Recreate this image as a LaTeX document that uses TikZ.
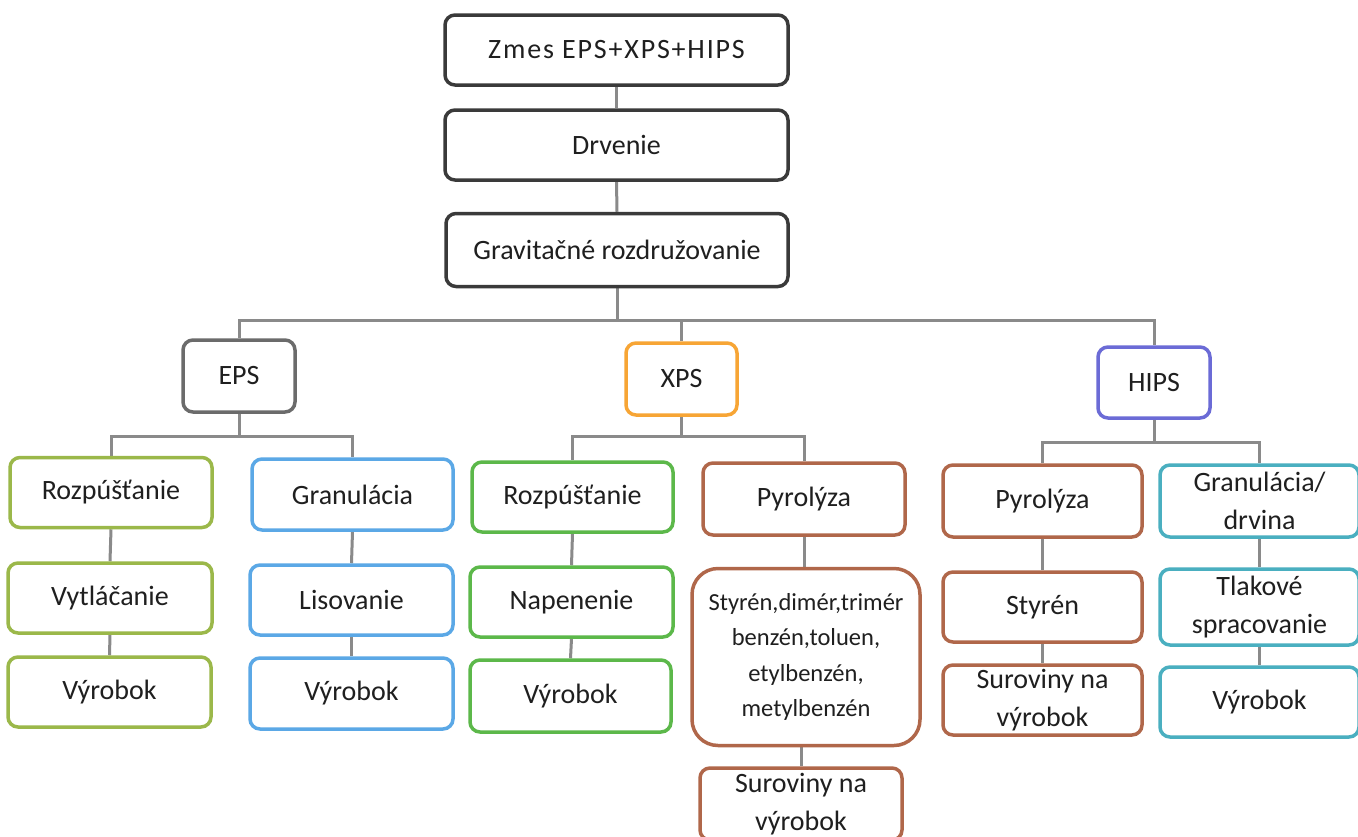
\documentclass[tikz,border=0pt]{standalone}
\usepackage{fontspec}
\setmainfont{Carlito}
\usetikzlibrary{backgrounds}
\definecolor{linegray}{HTML}{8A8A8A}
\definecolor{cdark}{HTML}{3A3A3A}
\definecolor{ceps}{HTML}{6B6B6B}
\definecolor{cxps}{HTML}{F7A535}
\definecolor{chips}{HTML}{6B6BD6}
\definecolor{colive}{HTML}{9BB84A}
\definecolor{cblue}{HTML}{5BA8E6}
\definecolor{cgreen}{HTML}{5CB84A}
\definecolor{cbrown}{HTML}{B0674A}
\definecolor{cteal}{HTML}{4AAFC0}
\begin{document}
\begin{tikzpicture}[x=1pt,y=-1pt,
  box/.style={draw=#1, line width=3.5pt, rounded corners=10pt, fill=white,
    align=center, inner sep=0pt, minimum width=202pt, minimum height=70pt,
    font=\fontsize{28}{38}\selectfont, text=black!88},
  conn/.style={draw=linegray, line width=3pt}]
\useasboundingbox (0,0) rectangle (1358,836);
% top chain
\node[box=cdark, minimum width=343pt, font=\fontsize{28}{38}\selectfont\addfontfeatures{LetterSpace=6.5}] (zmes) at (616.5,50) {Zmes EPS+XPS+HIPS};
\node[box=cdark, minimum width=343pt] (drv) at (616.5,145) {Drvenie};
\node[box=cdark, minimum width=342pt, minimum height=73pt] (grav) at (617,250) {Gravitačné rozdružovanie};
% second level
\node[box=ceps, minimum width=112pt, minimum height=72pt] (eps) at (239,376) {EPS};
\node[box=cxps, minimum width=111pt, minimum height=72pt] (xps) at (681.5,379) {XPS};
\node[box=chips, minimum width=112pt, minimum height=71pt] (hips) at (1154,382.5) {HIPS};
% EPS branch 1
\node[box=colive] (r1) at (111,492.5) {Rozpúšťanie};
\node[box=colive, minimum width=204pt] (vyt) at (110,598) {Vytláčanie};
\node[box=colive, minimum width=203pt] (vy1) at (109.5,692) {Výrobok};
% EPS branch 2
\node[box=cblue, minimum width=201pt, minimum height=71pt] (gr1) at (352.5,494.5) {Granulácia};
\node[box=cblue, minimum width=203pt] (lis) at (351.5,600) {Lisovanie};
\node[box=cblue, minimum width=203pt, minimum height=71pt] (vy2) at (351.5,693.5) {Výrobok};
% XPS branch 1
\node[box=cgreen, minimum width=201pt] (r2) at (572.5,497) {Rozpúšťanie};
\node[box=cgreen, minimum width=203pt] (nap) at (571.5,602) {Napenenie};
\node[box=cgreen, minimum width=201pt, minimum height=72pt] (vy3) at (570.5,696) {Výrobok};
% XPS branch 2
\node[box=cbrown, minimum height=72pt] (py1) at (804,499) {Pyrolýza};
\node[box=cbrown, minimum width=228pt, minimum height=177pt, rounded corners=26pt,
      font=\fontsize{24.5}{35.5}\selectfont] (prod) at (806,657)
      {Styrén,dimér,trimér\\benzén,toluen,\\etylbenzén,\\metylbenzén};
\node[box=cbrown, minimum height=72pt] (sur1) at (801,804) {Suroviny na\\výrobok};
% HIPS branch 1
\node[box=cbrown, minimum width=199pt, minimum height=72pt] (py2) at (1042.5,501) {Pyrolýza};
\node[box=cbrown, minimum width=199pt] (sty) at (1042.5,607) {Styrén};
\node[box=cbrown, minimum width=199pt] (sur2) at (1042.5,700) {Suroviny na\\výrobok};
% HIPS branch 2
\node[box=cteal, minimum width=199pt, minimum height=72pt] (gr2) at (1259.5,501) {Granulácia/\\drvina};
\node[box=cteal, minimum width=199pt] (tlak) at (1259.5,607) {\raisebox{-5pt}{\begin{tabular}{@{}c@{}}Tlakové\\spracovanie\end{tabular}}};
\node[box=cteal, minimum width=199pt] (vy4) at (1259.5,702) {Výrobok};
% connectors
\coordinate (b1) at (0,320);
\coordinate (b2) at (0,436);
\coordinate (b3) at (0,442);
\begin{scope}[on background layer]
\fill[white] (0,0) rectangle (1358,836);
\draw[conn] (zmes.south) -- (drv.north);
\draw[conn] (drv.south) -- (grav.north);
\foreach \c in {eps,xps,hips}
  \draw[conn] (grav.south) -- (grav.south |- b1) -| (\c.north);
\foreach \c in {r1,gr1}
  \draw[conn] (eps.south) -- (eps.south |- b2) -| (\c.north);
\foreach \c in {r2,py1}
  \draw[conn] (xps.south) -- (xps.south |- b2) -| (\c.north);
\foreach \c in {py2,gr2}
  \draw[conn] (hips.south) -- (hips.south |- b3) -| (\c.north);
\draw[conn] (r1.south) -- (vyt.north);
\draw[conn] (vyt.south) -- (vy1.north);
\draw[conn] (gr1.south) -- (lis.north);
\draw[conn] (lis.south) -- (vy2.north);
\draw[conn] (r2.south) -- (nap.north);
\draw[conn] (nap.south) -- (vy3.north);
\draw[conn] (py1.south) -- (py1.south |- prod.north);
\draw[conn] (prod.south -| sur1.north) -- (sur1.north);
\draw[conn] (py2.south) -- (sty.north);
\draw[conn] (sty.south) -- (sur2.north);
\draw[conn] (gr2.south) -- (tlak.north);
\draw[conn] (tlak.south) -- (vy4.north);
\end{scope}
\end{tikzpicture}
\end{document}
